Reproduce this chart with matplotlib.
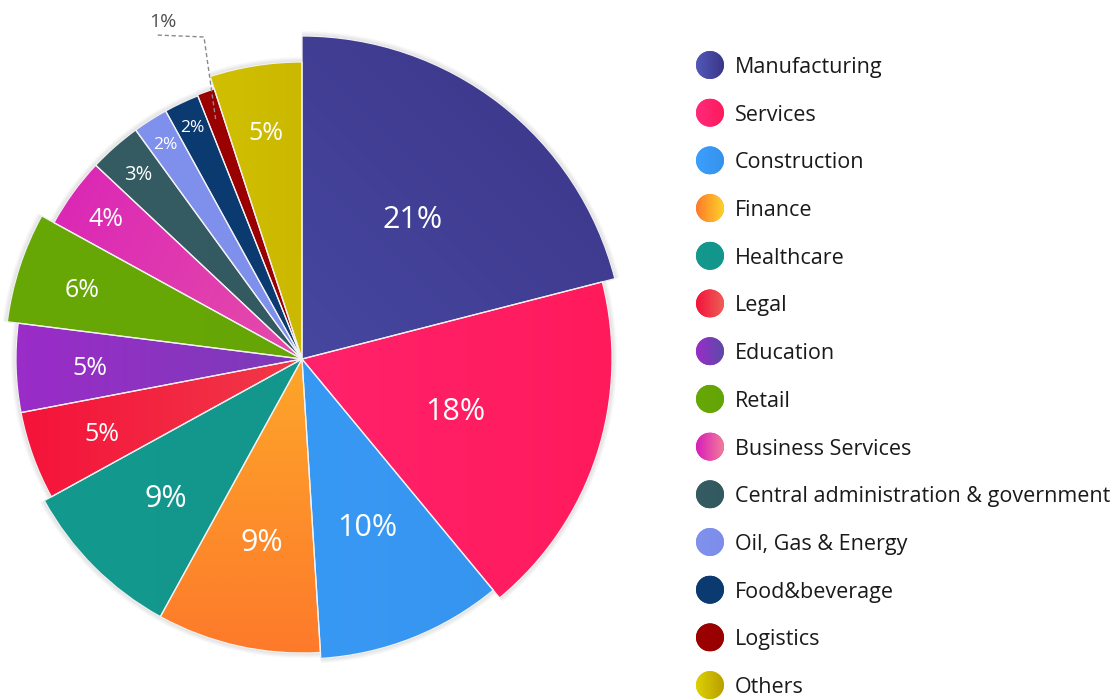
import numpy as np
import matplotlib.pyplot as plt
from matplotlib.patches import Wedge, Circle
from matplotlib.colors import to_rgb

plt.rcParams['font.family'] = ['Open Sans', 'DejaVu Sans']

# data
sectors = ["Manufacturing", "Services", "Construction", "Finance", "Healthcare",
           "Legal", "Education", "Retail", "Business Services",
           "Central administration & government", "Oil, Gas & Energy",
           "Food&beverage", "Logistics", "Others"]
shares = [21, 18, 10, 9, 9, 5, 5, 6, 4, 3, 2, 2, 1, 5]

# styling: outer radius (px), gradient (start, end, direction), label radius, label size
radii = [323, 310, 300, 294, 294, 286, 286, 297, 283, 283, 283, 283, 284, 297]
grads = [("#5259ba", "#3b3587", 45), ("#ff2a7a", "#ff1a5c", 0),
         ("#3ba0fc", "#3592ec", 0), ("#fe7a2a", "#fdd22a", 90),
         ("#14998e", "#12958a", 0), ("#f5123a", "#ec6057", 0),
         ("#9b2cc8", "#5a4ba8", 0), ("#67a807", "#64a506", 0),
         ("#d81cb9", "#f27d9a", -25), ("#365c63", "#335960", 0),
         ("#8192ee", "#7d8eea", 0), ("#0c3b72", "#0b3a70", 0),
         ("#9c0000", "#980000", 0), ("#ddd100", "#b99f00", 0)]
label_r = [180, 161, 178, 185, 193, 213, 212, 231, 242, 248, 256, 258, 0, 231]
label_fs = [22, 22, 22, 22, 22, 18, 18, 18, 18, 14.5, 12.5, 12.5, 14, 18]


def gradient(c1, c2, angle, n=200):
    a = np.deg2rad(angle)
    xx, yy = np.meshgrid(np.linspace(-1, 1, n), np.linspace(-1, 1, n))
    t = xx * np.cos(a) + yy * np.sin(a)
    t = (t - t.min()) / (t.max() - t.min())
    c1, c2 = np.array(to_rgb(c1)), np.array(to_rgb(c2))
    return c1 * (1 - t[..., None]) + c2 * t[..., None]


W, H = 1117, 700
fig = plt.figure(figsize=(W / 100, H / 100), dpi=100)
ax = fig.add_axes([0, 0, 1, 1])
cx, cy = 302, H - 359

wedges, _ = ax.pie(shares, startangle=90, counterclock=False, center=(cx, cy),
                   radius=300, colors=[g[0] for g in grads],
                   wedgeprops=dict(edgecolor='none'))

for w, r, (c1, c2, ang), lr, fs, pct in zip(wedges, radii, grads, label_r, label_fs, shares):
    w.set_radius(r)
    # soft shadow
    for k in range(1, 6):
        ax.add_patch(Wedge((cx, cy), r + k, w.theta1, w.theta2, color='black',
                           alpha=0.025, lw=0, zorder=0.5))
    im = ax.imshow(gradient(c1, c2, ang), extent=(cx - r, cx + r, cy - r, cy + r),
                   origin='lower', zorder=2, interpolation='bilinear')
    im.set_clip_path(w)
    ax.add_patch(Wedge((cx, cy), r, w.theta1, w.theta2, fill=False,
                       edgecolor='#f2f2f2', lw=0.9, zorder=3))
    mid = np.deg2rad((w.theta1 + w.theta2) / 2)
    if lr > 0:
        ax.text(cx + lr * np.cos(mid), cy + lr * np.sin(mid), f"{pct}%",
                color='white', fontsize=fs, ha='center', va='center_baseline', zorder=4)
    else:
        # small slice: label outside with dashed leader
        x0, y0 = cx + 255 * np.cos(mid), cy + 255 * np.sin(mid)
        ax.plot([x0, 204, 156], [y0, H - 37, H - 35], ls=(0, (3, 2)), color='#8a8a8a',
                lw=1, zorder=5)
        ax.text(163, H - 20, f"{pct}%", color='#505050', fontsize=fs,
                ha='center', va='center_baseline')

# legend
for i, (name, (c1, c2, ang)) in enumerate(zip(sectors, grads)):
    y = H - (65 + 47.7 * i)
    circ = Circle((710, y), 14, facecolor=c1, edgecolor='none', zorder=2)
    ax.add_patch(circ)
    im = ax.imshow(gradient(c1, c2, 0), extent=(696, 724, y - 14, y + 14),
                   origin='lower', zorder=3, interpolation='bilinear')
    im.set_clip_path(circ)
    ax.text(735, y - 8, name, fontsize=15.5, color='#1a1a1a', ha='left', va='baseline')

ax.set_xlim(0, W)
ax.set_ylim(0, H)
ax.set_aspect('equal')
ax.axis('off')
fig.savefig('out.png', dpi=100, facecolor='white')
